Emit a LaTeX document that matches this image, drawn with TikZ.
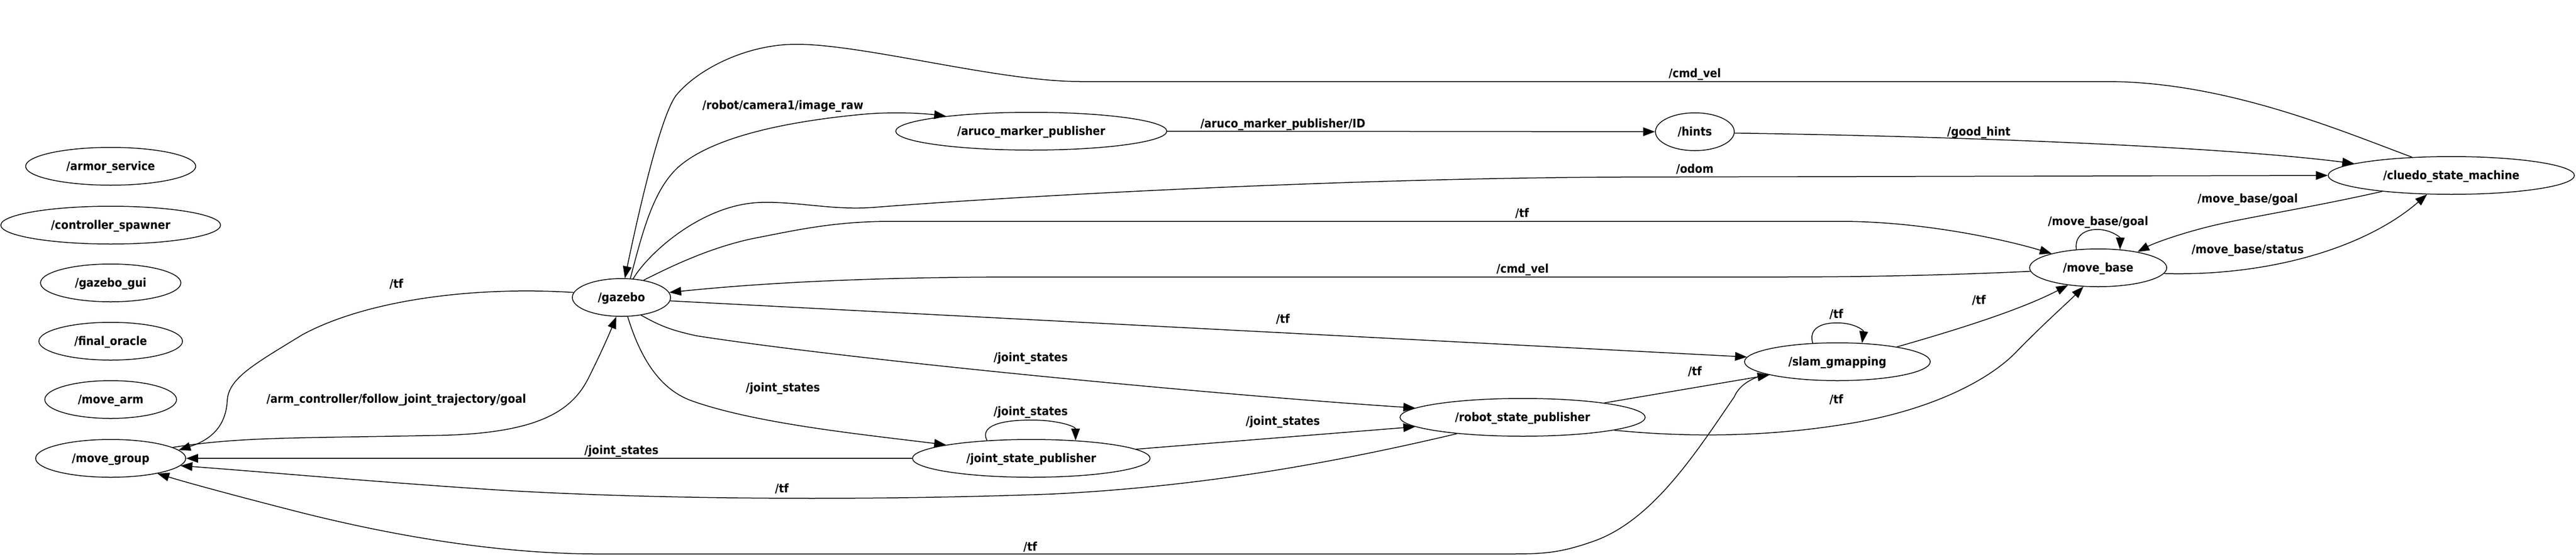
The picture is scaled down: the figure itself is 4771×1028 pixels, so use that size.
\documentclass[tikz,border=0pt]{standalone}
\usepackage{fontspec}
\setmainfont{DejaVu Sans}[FakeStretch=0.9]
\usetikzlibrary{arrows.meta,shapes.geometric}
\begin{document}
\begin{tikzpicture}[x=0.5pt,y=-0.5pt,
  nd/.style={draw, ellipse, line width=0.75pt, inner sep=0pt, minimum height=35pt,
    font=\bfseries\fontsize{11}{13}\selectfont, text height=8.5pt, text depth=1.5pt},
  lbl/.style={inner sep=0pt, font=\bfseries\fontsize{11}{13}\selectfont, text height=8.5pt, text depth=1.5pt},
  edge/.style={line width=0.75pt, -{Triangle[length=11pt,width=8pt]}}]
\useasboundingbox (0,0) rectangle (4771,1028);
\fill[white] (0,0) rectangle (4771,1028);

% nodes
\node[nd, minimum width=157.5pt] (armor) at (205,308) {/armor\_service};
\node[nd, minimum width=203.5pt] (spawner) at (205,417) {/controller\_spawner};
\node[nd, minimum width=130pt] (gui) at (205,524) {/gazebo\_gui};
\node[nd, minimum width=133pt] (oracle) at (205,632) {/final\_oracle};
\node[nd, minimum width=122pt] (movearm) at (205,740) {/move\_arm};
\node[nd, minimum width=139pt] (move_group) at (205,849) {/move\_group};
\node[nd, minimum width=91pt] (gazebo) at (1151,551) {/gazebo};
\node[nd, minimum width=251pt] (aruco) at (1910,243) {/aruco\_marker\_publisher};
\node[nd, minimum width=73pt] (hints) at (3139,244) {/hints};
\node[nd, minimum width=228pt] (cluedo) at (4540,325) {/cluedo\_state\_machine};
\node[nd, minimum width=127pt] (move_base) at (3886,496) {/move\_base};
\node[nd, minimum width=172pt] (slam) at (3403,670) {/slam\_gmapping};
\node[nd, minimum width=227pt] (rsp) at (2820,773) {/robot\_state\_publisher};
\node[nd, minimum width=220pt] (jsp) at (1910,849) {/joint\_state\_publisher};

% edges
\draw[edge] (gazebo.174) .. controls (880,530) and (680,555) .. (560,620)
  .. controls (470,675) and (425,700) .. (421,740)
  .. controls (419,790) and (390,815) .. (move_group.7);
\draw[edge] (move_group.10) .. controls (450,808) and (560,812) .. (830,806)
  .. controls (1000,800) and (1060,760) .. (1090,700)
  .. controls (1115,650) and (1130,615) .. (gazebo.255);
\draw[edge] (jsp.west) -- (move_group.east);
\draw[edge] (rsp.194) .. controls (2500,850) and (2250,900) .. (1950,915)
  .. controls (1600,928) and (1200,925) .. (913,907)
  .. controls (700,893) and (500,875) .. (move_group.-6);
\draw[edge] (slam.190) .. controls (3245,700) and (3222,712) .. (3212,735)
  .. controls (3140,840) and (3060,965) .. (2950,1003)
  .. controls (2890,1024) and (2860,1026) .. (2800,1026) -- (1100,1026)
  .. controls (900,1025) and (700,985) .. (560,950)
  .. controls (450,922) and (350,895) .. (move_group.-18);
\draw[edge] (gazebo.65) .. controls (1190,430) and (1210,350) .. (1258,308)
  .. controls (1320,255) and (1450,225) .. (1606,211)
  .. controls (1660,207) and (1710,210) .. (aruco.170);
\draw[edge] (cluedo.155) .. controls (4330,240) and (4120,151) .. (3900,151) -- (2000,151)
  .. controls (1850,151) and (1600,82) .. (1475,82)
  .. controls (1380,82) and (1290,130) .. (1252,177)
  .. controls (1220,220) and (1175,430) .. (gazebo.80);
\draw[edge] (aruco.east) -- (hints.west);
\draw[edge] (hints.-2) .. controls (3600,252) and (4100,270) .. (cluedo.173);
\draw[edge] (gazebo.58) .. controls (1200,470) and (1300,378) .. (1409,375)
  .. controls (1480,373) and (1540,390) .. (1620,384)
  .. controls (1900,362) and (2500,330) .. (3000,328) -- (cluedo.west);
\draw[edge] (gazebo.38) .. controls (1240,495) and (1320,455) .. (1409,439)
  .. controls (1480,425) and (1550,410) .. (1650,410) -- (3409,410)
  .. controls (3550,410) and (3700,440) .. (move_base.163);
\draw[edge] (move_base.183) .. controls (3600,510) and (3450,513) .. (3300,513) -- (1900,513)
  .. controls (1600,513) and (1400,525) .. (gazebo.6);
\draw[edge] (gazebo.-4) -- (slam.177);
\draw[edge] (gazebo.-42) .. controls (1225,605) and (1245,612) .. (1290,622)
  .. controls (1600,670) and (2300,735) .. (rsp.175);
\draw[edge] (gazebo.-72) .. controls (1185,660) and (1220,720) .. (1280,742)
  .. controls (1400,785) and (1600,805) .. (jsp.171);
\draw[edge] (jsp.158) .. controls (1815,790) and (1850,778) .. (1910,778)
  .. controls (1960,778) and (1992,790) .. (jsp.22);
\draw[edge] (jsp.5) -- (rsp.185);
\draw[edge] (rsp.10) -- (slam.191);
\draw[edge] (rsp.-8) .. controls (3100,808) and (3250,812) .. (3409,787)
  .. controls (3560,765) and (3680,710) .. (3737,649)
  .. controls (3790,595) and (3830,560) .. (move_base.232);
\draw[edge] (slam.143) .. controls (3350,610) and (3370,598) .. (3402,598)
  .. controls (3435,598) and (3452,612) .. (slam.37);
\draw[edge] (slam.14) .. controls (3620,612) and (3740,575) .. (move_base.210);
\draw[edge] (move_base.140) .. controls (3842,438) and (3860,425) .. (3884,425)
  .. controls (3910,425) and (3927,440) .. (move_base.40);
\draw[edge] (cluedo.193) .. controls (4300,380) and (4180,400) .. (4120,413)
  .. controls (4050,428) and (3990,450) .. (move_base.22);
\draw[edge] (move_base.-5) .. controls (4200,512) and (4380,460) .. (cluedo.218);

% labels
\node[lbl] (l1) at (734,526) {/tf};
\node[lbl] (l2) at (734,739) {/arm\_controller/follow\_joint\_trajectory/goal};
\node[lbl] (l3) at (1151,834) {/joint\_states};
\node[lbl] (l4) at (1448,905) {/tf};
\node[lbl] (l5) at (1908,1013) {/tf};
\node[lbl] (l6) at (1450,195) {/robot/camera1/image\_raw};
\node[lbl] (l7) at (3139,136) {/cmd\_vel};
\node[lbl] (l8) at (2376,229) {/aruco\_marker\_publisher/ID};
\node[lbl] (l9) at (3665,244) {/good\_hint};
\node[lbl] (l10) at (3139,313) {/odom};
\node[lbl] (l11) at (2819,395) {/tf};
\node[lbl] (l12) at (2820,498) {/cmd\_vel};
\node[lbl] (l13) at (2376,591) {/tf};
\node[lbl] (l14) at (1909,662) {/joint\_states};
\node[lbl] (l15) at (1450,718) {/joint\_states};
\node[lbl] (l16) at (1909,762) {/joint\_states};
\node[lbl] (l17) at (2376,780) {/joint\_states};
\node[lbl] (l18) at (3139,688) {/tf};
\node[lbl] (l19) at (3401,740) {/tf};
\node[lbl] (l20) at (3401,582) {/tf};
\node[lbl] (l21) at (3665,556) {/tf};
\node[lbl] (l22) at (3886,410) {/move\_base/goal};
\node[lbl] (l23) at (4163,368) {/move\_base/goal};
\node[lbl] (l24) at (4163,462) {/move\_base/status};
\end{tikzpicture}
\end{document}
